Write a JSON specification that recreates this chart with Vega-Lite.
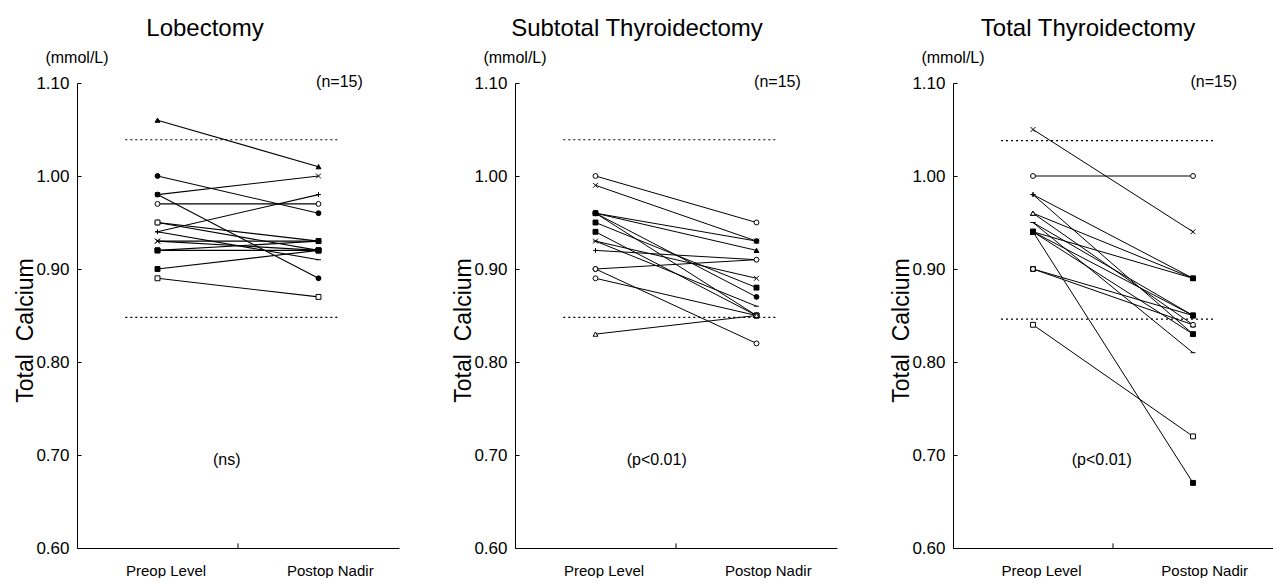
{
  "$schema": "https://vega.github.io/schema/vega-lite/v6.json",
  "background": "white",
  "padding": {"left": 14, "top": 16, "right": 0, "bottom": 0},
  "config": {
    "view": {"stroke": null},
    "font": "Liberation Sans",
    "axis": {"domainColor": "black", "tickColor": "black", "labelColor": "black", "titleColor": "black", "grid": false, "labelFont": "Liberation Sans", "titleFont": "Liberation Sans", "titleFontWeight": "normal"},
    "title": {"font": "Liberation Sans", "fontWeight": "normal", "fontSize": 24, "color": "black"}
  },
  "datasets": {
    "one": [{}],
    "calcium": [
      {"op": "L", "pt": "L01", "t": 0, "v": 1.06}, {"op": "L", "pt": "L01", "t": 1, "v": 1.01},
      {"op": "L", "pt": "L02", "t": 0, "v": 1.00}, {"op": "L", "pt": "L02", "t": 1, "v": 0.96},
      {"op": "L", "pt": "L03", "t": 0, "v": 0.98}, {"op": "L", "pt": "L03", "t": 1, "v": 1.00},
      {"op": "L", "pt": "L04", "t": 0, "v": 0.98}, {"op": "L", "pt": "L04", "t": 1, "v": 0.89},
      {"op": "L", "pt": "L05", "t": 0, "v": 0.97}, {"op": "L", "pt": "L05", "t": 1, "v": 0.97},
      {"op": "L", "pt": "L06", "t": 0, "v": 0.95}, {"op": "L", "pt": "L06", "t": 1, "v": 0.93},
      {"op": "L", "pt": "L07", "t": 0, "v": 0.95}, {"op": "L", "pt": "L07", "t": 1, "v": 0.92},
      {"op": "L", "pt": "L08", "t": 0, "v": 0.94}, {"op": "L", "pt": "L08", "t": 1, "v": 0.98},
      {"op": "L", "pt": "L09", "t": 0, "v": 0.94}, {"op": "L", "pt": "L09", "t": 1, "v": 0.91},
      {"op": "L", "pt": "L10", "t": 0, "v": 0.93}, {"op": "L", "pt": "L10", "t": 1, "v": 0.93},
      {"op": "L", "pt": "L11", "t": 0, "v": 0.92}, {"op": "L", "pt": "L11", "t": 1, "v": 0.92},
      {"op": "L", "pt": "L12", "t": 0, "v": 0.90}, {"op": "L", "pt": "L12", "t": 1, "v": 0.92},
      {"op": "L", "pt": "L13", "t": 0, "v": 0.89}, {"op": "L", "pt": "L13", "t": 1, "v": 0.87},
      {"op": "L", "pt": "L14", "t": 0, "v": 0.93}, {"op": "L", "pt": "L14", "t": 1, "v": 0.92},
      {"op": "L", "pt": "L15", "t": 0, "v": 0.92}, {"op": "L", "pt": "L15", "t": 1, "v": 0.93},
      {"op": "S", "pt": "S01", "t": 0, "v": 1.00}, {"op": "S", "pt": "S01", "t": 1, "v": 0.95},
      {"op": "S", "pt": "S02", "t": 0, "v": 0.99}, {"op": "S", "pt": "S02", "t": 1, "v": 0.93},
      {"op": "S", "pt": "S03", "t": 0, "v": 0.96}, {"op": "S", "pt": "S03", "t": 1, "v": 0.93},
      {"op": "S", "pt": "S04", "t": 0, "v": 0.96}, {"op": "S", "pt": "S04", "t": 1, "v": 0.92},
      {"op": "S", "pt": "S05", "t": 0, "v": 0.96}, {"op": "S", "pt": "S05", "t": 1, "v": 0.87},
      {"op": "S", "pt": "S06", "t": 0, "v": 0.96}, {"op": "S", "pt": "S06", "t": 1, "v": 0.85},
      {"op": "S", "pt": "S07", "t": 0, "v": 0.95}, {"op": "S", "pt": "S07", "t": 1, "v": 0.88},
      {"op": "S", "pt": "S08", "t": 0, "v": 0.94}, {"op": "S", "pt": "S08", "t": 1, "v": 0.85},
      {"op": "S", "pt": "S09", "t": 0, "v": 0.93}, {"op": "S", "pt": "S09", "t": 1, "v": 0.89},
      {"op": "S", "pt": "S10", "t": 0, "v": 0.92}, {"op": "S", "pt": "S10", "t": 1, "v": 0.91},
      {"op": "S", "pt": "S11", "t": 0, "v": 0.90}, {"op": "S", "pt": "S11", "t": 1, "v": 0.91},
      {"op": "S", "pt": "S12", "t": 0, "v": 0.90}, {"op": "S", "pt": "S12", "t": 1, "v": 0.82},
      {"op": "S", "pt": "S13", "t": 0, "v": 0.89}, {"op": "S", "pt": "S13", "t": 1, "v": 0.85},
      {"op": "S", "pt": "S14", "t": 0, "v": 0.83}, {"op": "S", "pt": "S14", "t": 1, "v": 0.85},
      {"op": "S", "pt": "S15", "t": 0, "v": 0.93}, {"op": "S", "pt": "S15", "t": 1, "v": 0.86},
      {"op": "T", "pt": "T01", "t": 0, "v": 1.05}, {"op": "T", "pt": "T01", "t": 1, "v": 0.94},
      {"op": "T", "pt": "T02", "t": 0, "v": 1.00}, {"op": "T", "pt": "T02", "t": 1, "v": 1.00},
      {"op": "T", "pt": "T03", "t": 0, "v": 0.98}, {"op": "T", "pt": "T03", "t": 1, "v": 0.89},
      {"op": "T", "pt": "T04", "t": 0, "v": 0.98}, {"op": "T", "pt": "T04", "t": 1, "v": 0.83},
      {"op": "T", "pt": "T05", "t": 0, "v": 0.96}, {"op": "T", "pt": "T05", "t": 1, "v": 0.89},
      {"op": "T", "pt": "T06", "t": 0, "v": 0.96}, {"op": "T", "pt": "T06", "t": 1, "v": 0.84},
      {"op": "T", "pt": "T07", "t": 0, "v": 0.95}, {"op": "T", "pt": "T07", "t": 1, "v": 0.81},
      {"op": "T", "pt": "T08", "t": 0, "v": 0.95}, {"op": "T", "pt": "T08", "t": 1, "v": 0.85},
      {"op": "T", "pt": "T09", "t": 0, "v": 0.94}, {"op": "T", "pt": "T09", "t": 1, "v": 0.67},
      {"op": "T", "pt": "T10", "t": 0, "v": 0.94}, {"op": "T", "pt": "T10", "t": 1, "v": 0.89},
      {"op": "T", "pt": "T11", "t": 0, "v": 0.94}, {"op": "T", "pt": "T11", "t": 1, "v": 0.83},
      {"op": "T", "pt": "T12", "t": 0, "v": 0.90}, {"op": "T", "pt": "T12", "t": 1, "v": 0.85},
      {"op": "T", "pt": "T13", "t": 0, "v": 0.90}, {"op": "T", "pt": "T13", "t": 1, "v": 0.84},
      {"op": "T", "pt": "T14", "t": 0, "v": 0.84}, {"op": "T", "pt": "T14", "t": 1, "v": 0.72},
      {"op": "T", "pt": "T15", "t": 0, "v": 0.94}, {"op": "T", "pt": "T15", "t": 1, "v": 0.85}
    ]
  },
  "hconcat": [
    {
      "width": 322, "height": 465,
      "title": {"text": "Lobectomy", "anchor": "middle", "frame": "group", "dx": -33, "offset": 9},
      "layer": [
        {"data": {"name": "calcium"},
         "transform": [{"filter": "datum.op == 'L'"}],
         "mark": {"type": "line", "color": "black", "strokeWidth": 1.1},
         "encoding": {
           "x": {"field": "t", "type": "quantitative", "scale": {"domain": [-0.5, 1.5], "nice": false, "zero": false},
                 "axis": {"title": null, "values": [0.05, 1.07], "labelExpr": "datum.value < 0.5 ? 'Preop Level' : 'Postop Nadir'", "ticks": false, "labelFontSize": 15, "labelPadding": 15}},
           "y": {"field": "v", "type": "quantitative", "scale": {"domain": [0.6, 1.1], "nice": false, "zero": false},
                 "axis": {"title": "Total\u00a0\u00a0Calcium", "titleFontSize": 23, "titlePadding": -2, "titleY": 247, "values": [0.6, 0.7, 0.8, 0.9, 1.0, 1.1], "format": ".2f", "tickSize": -4, "labelFontSize": 17, "labelPadding": 12}},
           "detail": {"field": "pt"}}},
        {"data": {"name": "calcium"},
         "transform": [{"filter": "datum.op == 'L'"}],
         "mark": {"type": "point", "filled": true, "stroke": "black", "strokeWidth": 1, "size": 24, "opacity": 1},
         "encoding": {
           "x": {"field": "t", "type": "quantitative"},
           "y": {"field": "v", "type": "quantitative"},
           "shape": {"field": "pt", "type": "nominal", "legend": null, "scale": {"domain": ["L01","L02","L03","L04","L05","L06","L07","L08","L09","L10","L11","L12","L13","L14","L15"], "range": ["triangle-up","circle","M-1,-1L1,1M-1,1L1,-1","circle","circle","circle","square","M-1,0L1,0M0,-1L0,1","M-1,0L1,0","M-1,-1L1,1M-1,1L1,-1","square","square","square","M-1,-1L1,1M-1,1L1,-1","square"]}},
           "fill": {"field": "pt", "type": "nominal", "legend": null, "scale": {"domain": ["L01","L02","L03","L04","L05","L06","L07","L08","L09","L10","L11","L12","L13","L14","L15"], "range": ["black","black","white","black","white","white","white","white","white","white","black","black","white","white","black"]}}}},
        {"data": {"name": "one"},
         "mark": {"type": "rule", "strokeDash": [2, 3], "color": "black", "strokeWidth": 1.2},
         "encoding": {"x": {"datum": -0.2, "type": "quantitative"}, "x2": {"datum": 1.13}, "y": {"datum": 1.039, "type": "quantitative"}}},
        {"data": {"name": "one"},
         "mark": {"type": "rule", "strokeDash": [2, 3], "color": "black", "strokeWidth": 1.2},
         "encoding": {"x": {"datum": -0.2, "type": "quantitative"}, "x2": {"datum": 1.13}, "y": {"datum": 0.848, "type": "quantitative"}}},
        {"data": {"name": "one"},
         "mark": {"type": "rule", "color": "black", "strokeWidth": 1},
         "encoding": {"x": {"datum": 0.5, "type": "quantitative"}, "y": {"datum": 0.6, "type": "quantitative"}, "y2": {"datum": 0.605}}},
        {"data": {"name": "one"},
         "mark": {"type": "text", "fontSize": 16, "align": "center", "baseline": "middle", "color": "black", "text": "(mmol/L)"},
         "encoding": {"x": {"datum": -0.5, "type": "quantitative"}, "y": {"datum": 1.127, "type": "quantitative"}}},
        {"data": {"name": "one"},
         "mark": {"type": "text", "fontSize": 16, "align": "center", "baseline": "middle", "color": "black", "text": "(n=15)"},
         "encoding": {"x": {"datum": 1.13, "type": "quantitative"}, "y": {"datum": 1.101, "type": "quantitative"}}},
        {"data": {"name": "one"},
         "mark": {"type": "text", "fontSize": 16, "align": "center", "baseline": "middle", "color": "black", "text": "(ns)"},
         "encoding": {"x": {"datum": 0.43, "type": "quantitative"}, "y": {"datum": 0.695, "type": "quantitative"}}}
      ]
    },
    {
      "width": 322, "height": 465,
      "title": {"text": "Subtotal Thyroidectomy", "anchor": "middle", "frame": "group", "dx": -39, "offset": 9},
      "layer": [
        {"data": {"name": "calcium"},
         "transform": [{"filter": "datum.op == 'S'"}],
         "mark": {"type": "line", "color": "black", "strokeWidth": 1},
         "encoding": {
           "x": {"field": "t", "type": "quantitative", "scale": {"domain": [-0.5, 1.5], "nice": false, "zero": false},
                 "axis": {"title": null, "values": [0.05, 1.07], "labelExpr": "datum.value < 0.5 ? 'Preop Level' : 'Postop Nadir'", "ticks": false, "labelFontSize": 15, "labelPadding": 15}},
           "y": {"field": "v", "type": "quantitative", "scale": {"domain": [0.6, 1.1], "nice": false, "zero": false},
                 "axis": {"title": "Total\u00a0\u00a0Calcium", "titleFontSize": 23, "titlePadding": -2, "titleY": 247, "values": [0.6, 0.7, 0.8, 0.9, 1.0, 1.1], "format": ".2f", "tickSize": -4, "labelFontSize": 17, "labelPadding": 12}},
           "detail": {"field": "pt"}}},
        {"data": {"name": "calcium"},
         "transform": [{"filter": "datum.op == 'S'"}],
         "mark": {"type": "point", "filled": true, "stroke": "black", "strokeWidth": 1, "size": 24, "opacity": 1},
         "encoding": {
           "x": {"field": "t", "type": "quantitative"},
           "y": {"field": "v", "type": "quantitative"},
           "shape": {"field": "pt", "type": "nominal", "legend": null, "scale": {"domain": ["S01","S02","S03","S04","S05","S06","S07","S08","S09","S10","S11","S12","S13","S14","S15"], "range": ["circle","M-1,-1L1,1M-1,1L1,-1","circle","triangle-up","circle","square","square","square","M-1,-1L1,1M-1,1L1,-1","M-1,0L1,0M0,-1L0,1","circle","circle","circle","triangle-up","M-1,0L1,0"]}},
           "fill": {"field": "pt", "type": "nominal", "legend": null, "scale": {"domain": ["S01","S02","S03","S04","S05","S06","S07","S08","S09","S10","S11","S12","S13","S14","S15"], "range": ["white","white","black","black","black","black","black","black","white","white","white","white","white","white","white"]}}}},
        {"data": {"name": "one"},
         "mark": {"type": "rule", "strokeDash": [2, 3], "color": "black", "strokeWidth": 1.2},
         "encoding": {"x": {"datum": -0.2, "type": "quantitative"}, "x2": {"datum": 1.13}, "y": {"datum": 1.039, "type": "quantitative"}}},
        {"data": {"name": "one"},
         "mark": {"type": "rule", "strokeDash": [2, 3], "color": "black", "strokeWidth": 1.2},
         "encoding": {"x": {"datum": -0.2, "type": "quantitative"}, "x2": {"datum": 1.13}, "y": {"datum": 0.848, "type": "quantitative"}}},
        {"data": {"name": "one"},
         "mark": {"type": "rule", "color": "black", "strokeWidth": 1},
         "encoding": {"x": {"datum": 0.5, "type": "quantitative"}, "y": {"datum": 0.6, "type": "quantitative"}, "y2": {"datum": 0.605}}},
        {"data": {"name": "one"},
         "mark": {"type": "text", "fontSize": 16, "align": "center", "baseline": "middle", "color": "black", "text": "(mmol/L)"},
         "encoding": {"x": {"datum": -0.5, "type": "quantitative"}, "y": {"datum": 1.127, "type": "quantitative"}}},
        {"data": {"name": "one"},
         "mark": {"type": "text", "fontSize": 16, "align": "center", "baseline": "middle", "color": "black", "text": "(n=15)"},
         "encoding": {"x": {"datum": 1.13, "type": "quantitative"}, "y": {"datum": 1.101, "type": "quantitative"}}},
        {"data": {"name": "one"},
         "mark": {"type": "text", "fontSize": 16, "align": "center", "baseline": "middle", "color": "black", "text": "(p<0.01)"},
         "encoding": {"x": {"datum": 0.38, "type": "quantitative"}, "y": {"datum": 0.695, "type": "quantitative"}}}
      ]
    },
    {
      "width": 320, "height": 465,
      "title": {"text": "Total Thyroidectomy", "anchor": "middle", "frame": "group", "dx": -25, "offset": 9},
      "layer": [
        {"data": {"name": "calcium"},
         "transform": [{"filter": "datum.op == 'T'"}],
         "mark": {"type": "line", "color": "black", "strokeWidth": 1},
         "encoding": {
           "x": {"field": "t", "type": "quantitative", "scale": {"domain": [-0.5, 1.5], "nice": false, "zero": false},
                 "axis": {"title": null, "values": [0.05, 1.07], "labelExpr": "datum.value < 0.5 ? 'Preop Level' : 'Postop Nadir'", "ticks": false, "labelFontSize": 15, "labelPadding": 15}},
           "y": {"field": "v", "type": "quantitative", "scale": {"domain": [0.6, 1.1], "nice": false, "zero": false},
                 "axis": {"title": "Total\u00a0\u00a0Calcium", "titleFontSize": 23, "titlePadding": -2, "titleY": 247, "values": [0.6, 0.7, 0.8, 0.9, 1.0, 1.1], "format": ".2f", "tickSize": -4, "labelFontSize": 17, "labelPadding": 12}},
           "detail": {"field": "pt"}}},
        {"data": {"name": "calcium"},
         "transform": [{"filter": "datum.op == 'T'"}],
         "mark": {"type": "point", "filled": true, "stroke": "black", "strokeWidth": 1, "size": 24, "opacity": 1},
         "encoding": {
           "x": {"field": "t", "type": "quantitative"},
           "y": {"field": "v", "type": "quantitative"},
           "shape": {"field": "pt", "type": "nominal", "legend": null, "scale": {"domain": ["T01","T02","T03","T04","T05","T06","T07","T08","T09","T10","T11","T12","T13","T14","T15"], "range": ["M-1,-1L1,1M-1,1L1,-1","circle","M-1,0L1,0M0,-1L0,1","M-1,0L1,0M0,-1L0,1","triangle-up","triangle-up","M-1,0L1,0","M-1,0L1,0","square","square","square","square","circle","square","square"]}},
           "fill": {"field": "pt", "type": "nominal", "legend": null, "scale": {"domain": ["T01","T02","T03","T04","T05","T06","T07","T08","T09","T10","T11","T12","T13","T14","T15"], "range": ["white","white","white","white","white","white","white","white","black","black","black","white","white","white","black"]}}}},
        {"data": {"name": "one"},
         "mark": {"type": "rule", "strokeDash": [2, 3], "color": "black", "strokeWidth": 1.2},
         "encoding": {"x": {"datum": -0.2, "type": "quantitative"}, "x2": {"datum": 1.13}, "y": {"datum": 1.038, "type": "quantitative"}}},
        {"data": {"name": "one"},
         "mark": {"type": "rule", "strokeDash": [2, 3], "color": "black", "strokeWidth": 1.2},
         "encoding": {"x": {"datum": -0.2, "type": "quantitative"}, "x2": {"datum": 1.13}, "y": {"datum": 0.846, "type": "quantitative"}}},
        {"data": {"name": "one"},
         "mark": {"type": "rule", "color": "black", "strokeWidth": 1},
         "encoding": {"x": {"datum": 0.5, "type": "quantitative"}, "y": {"datum": 0.6, "type": "quantitative"}, "y2": {"datum": 0.605}}},
        {"data": {"name": "one"},
         "mark": {"type": "text", "fontSize": 16, "align": "center", "baseline": "middle", "color": "black", "text": "(mmol/L)"},
         "encoding": {"x": {"datum": -0.5, "type": "quantitative"}, "y": {"datum": 1.127, "type": "quantitative"}}},
        {"data": {"name": "one"},
         "mark": {"type": "text", "fontSize": 16, "align": "center", "baseline": "middle", "color": "black", "text": "(n=15)"},
         "encoding": {"x": {"datum": 1.13, "type": "quantitative"}, "y": {"datum": 1.101, "type": "quantitative"}}},
        {"data": {"name": "one"},
         "mark": {"type": "text", "fontSize": 16, "align": "center", "baseline": "middle", "color": "black", "text": "(p<0.01)"},
         "encoding": {"x": {"datum": 0.43, "type": "quantitative"}, "y": {"datum": 0.695, "type": "quantitative"}}}
      ]
    }
  ],
  "spacing": 116,
  "bounds": "flush",
  "resolve": {"scale": {"shape": "independent", "fill": "independent", "x": "independent", "y": "independent"}}
}
